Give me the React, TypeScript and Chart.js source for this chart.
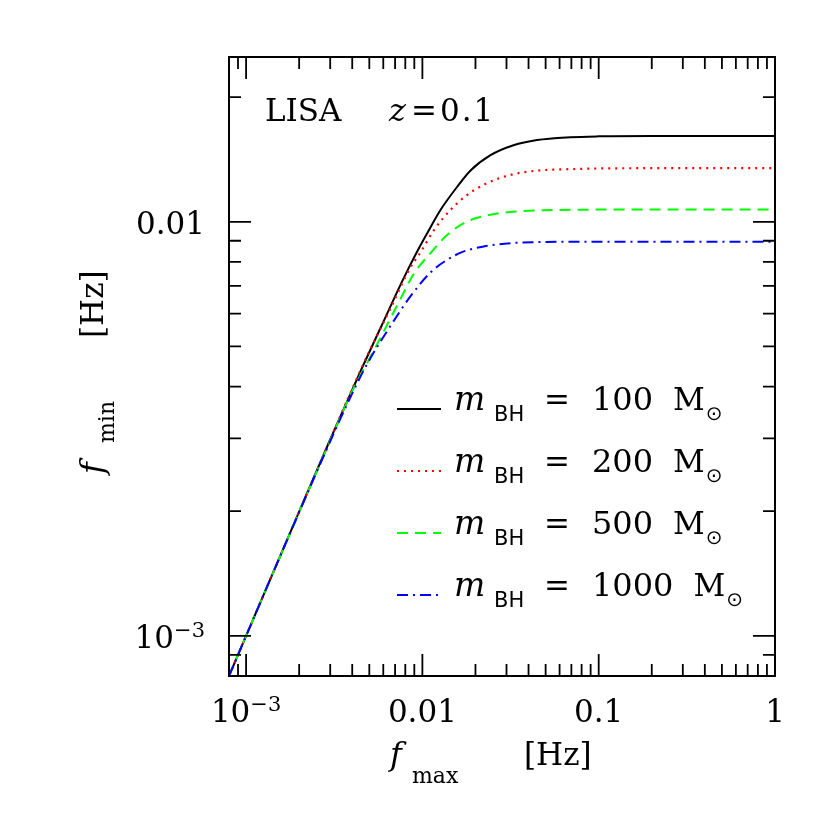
import React, { useEffect, useRef } from "react";
import { Chart, registerables } from "chart.js";

Chart.register(...registerables);

// ---- data (f_max [Hz] -> f_min [Hz]) ----
const fmax100 = [8e-4, 1e-3, 2e-3, 3e-3, 4.57e-3, 6.06e-3, 7.7e-3, 9.37e-3, 0.01067, 0.01269, 0.01578, 0.01876, 0.02435, 0.03286, 0.0447, 0.0691, 0.1, 0.2, 0.5, 1];
const fmin100 = [8e-4, 1e-3, 1.995e-3, 2.98e-3, 4.46e-3, 5.78e-3, 7.2e-3, 8.5e-3, 9.4e-3, 0.01069, 0.01216, 0.0133, 0.01448, 0.0153, 0.01575, 0.016, 0.01608, 0.01612, 0.01612, 0.01612];

const fmax200 = [8e-4, 1e-3, 2e-3, 3e-3, 4e-3, 5.1e-3, 6.62e-3, 8.4e-3, 9.78e-3, 0.01163, 0.01446, 0.01798, 0.02333, 0.0316, 0.0447, 0.0691, 0.1, 0.2, 0.5, 1];
const fmin200 = [8e-4, 1e-3, 1.995e-3, 2.975e-3, 3.95e-3, 4.95e-3, 6.2e-3, 7.65e-3, 8.45e-3, 9.55e-3, 0.01069, 0.01162, 0.0124, 0.01298, 0.01329, 0.0134, 0.01345, 0.01347, 0.01347, 0.01347];

const fmax500 = [8e-4, 1e-3, 2e-3, 3e-3, 4e-3, 5.32e-3, 7.22e-3, 8.96e-3, 0.01114, 0.01385, 0.01798, 0.02435, 0.0345, 0.0488, 0.0691, 0.1, 0.2, 0.5, 1];
const fmin500 = [8e-4, 1e-3, 1.99e-3, 2.96e-3, 3.9e-3, 4.9e-3, 6.3e-3, 7.5e-3, 8.41e-3, 9.3e-3, 0.01002, 0.0104, 0.01059, 0.01066, 0.01069, 0.0107, 0.0107, 0.0107, 0.0107];

const fmax1000 = [8e-4, 1e-3, 2e-3, 3e-3, 4e-3, 4.88e-3, 6.62e-3, 8.59e-3, 0.01114, 0.01385, 0.01719, 0.0223, 0.0316, 0.0447, 0.0691, 0.1, 0.2, 0.5, 1];
const fmin1000 = [8e-4, 1e-3, 1.99e-3, 2.95e-3, 3.85e-3, 4.55e-3, 5.62e-3, 6.62e-3, 7.55e-3, 8.1e-3, 8.48e-3, 8.72e-3, 8.88e-3, 8.93e-3, 8.95e-3, 8.95e-3, 8.95e-3, 8.95e-3, 8.95e-3];

const massLabels = ["100", "200", "500", "1000"];

const xMajorTicks = [1e-3, 1e-2, 1e-1, 1];
const xTickLabels = ["10^\u22123", "0.01", "0.1", "1"];
const yMajorTicks = [1e-3, 1e-2];
const yTickLabels = ["10^\u22123", "0.01"];
const minorMultipliers = [2, 3, 4, 5, 6, 7, 8, 9];

const xTitle = { main: "f", sub: "max", unit: "[Hz]" };
const yTitle = { main: "f", sub: "min", unit: "[Hz]" };
const surveyLabel = "LISA";
const redshiftLabel = { sym: "z", eq: "=", val: "0.1" };

// ---- styles ----
const seriesStyles = [
  { color: "#000000", dash: [] as number[], width: 2 },
  { color: "#ff0000", dash: [2, 5], width: 2.2 },
  { color: "#00ff00", dash: [11, 7], width: 2 },
  { color: "#0000ff", dash: [11, 5, 2, 5], width: 2 },
];

const seriesData = [
  [fmax100, fmin100],
  [fmax200, fmin200],
  [fmax500, fmin500],
  [fmax1000, fmin1000],
];

const SERIF = "'DejaVu Serif', serif";
const SANS = "'DejaVu Sans', sans-serif";

function minorList(decades: number[]) {
  const out: number[] = [9e-4];
  for (const d of decades) for (const m of minorMultipliers) out.push(m * d);
  return out;
}

function drawPowerLabel(ctx: CanvasRenderingContext2D, label: string, x: number, y: number, align: "center" | "right") {
  const [base, exp] = label.split("^");
  ctx.textAlign = "left";
  ctx.font = `31px ${SERIF}`;
  const wb = ctx.measureText(base).width;
  let we = 0;
  if (exp) {
    ctx.font = `21px ${SERIF}`;
    we = ctx.measureText(exp).width;
  }
  const total = wb + we;
  const start = align === "center" ? x - total / 2 : x - total;
  ctx.font = `31px ${SERIF}`;
  ctx.fillText(base, start, y);
  if (exp) {
    ctx.font = `21px ${SERIF}`;
    ctx.fillText(exp, start + wb, y - 11);
  }
}

const framePlugin = {
  id: "framePlugin",
  afterDraw(chart: any) {
    const ctx: CanvasRenderingContext2D = chart.ctx;
    const { left, right, top, bottom } = chart.chartArea;
    const xs = chart.scales.x;
    const ys = chart.scales.y;
    ctx.save();
    ctx.setLineDash([]);
    ctx.strokeStyle = "#000";
    ctx.fillStyle = "#000";

    // ticks (inward, all four sides)
    ctx.lineWidth = 1.8;
    ctx.beginPath();
    const xMinor = minorList([1e-3, 1e-2, 1e-1]);
    const yMinor = minorList([1e-3, 1e-2]);
    const tick = (len: number, vals: number[], axis: "x" | "y") => {
      for (const v of vals) {
        if (axis === "x") {
          const p = xs.getPixelForValue(v);
          if (p < left - 0.5 || p > right + 0.5) continue;
          ctx.moveTo(p, bottom); ctx.lineTo(p, bottom - len);
          ctx.moveTo(p, top); ctx.lineTo(p, top + len);
        } else {
          const p = ys.getPixelForValue(v);
          if (p < top - 0.5 || p > bottom + 0.5) continue;
          ctx.moveTo(left, p); ctx.lineTo(left + len, p);
          ctx.moveTo(right, p); ctx.lineTo(right - len, p);
        }
      }
    };
    tick(12, xMinor, "x");
    tick(22, xMajorTicks, "x");
    tick(12, yMinor, "y");
    tick(22, yMajorTicks, "y");
    ctx.stroke();

    // frame
    ctx.lineWidth = 2;
    ctx.strokeRect(left, top, right - left, bottom - top);

    // tick labels
    ctx.textBaseline = "alphabetic";
    xMajorTicks.forEach((v, i) => drawPowerLabel(ctx, xTickLabels[i], xs.getPixelForValue(v), bottom + 46, "center"));
    yMajorTicks.forEach((v, i) => drawPowerLabel(ctx, yTickLabels[i], left - 24, ys.getPixelForValue(v) + 12, "right"));

    // x axis title
    ctx.textAlign = "left";
    ctx.font = `italic 32px ${SERIF}`;
    ctx.fillText(xTitle.main, 390, 765);
    ctx.font = `22px ${SERIF}`;
    ctx.fillText(xTitle.sub, 412, 783);
    ctx.font = `31px ${SERIF}`;
    ctx.fillText(xTitle.unit, 524, 765);

    // y axis title (rotated)
    ctx.save();
    ctx.translate(103, 474);
    ctx.rotate(-Math.PI / 2);
    ctx.font = `italic 32px ${SERIF}`;
    ctx.fillText(yTitle.main, 0, 0);
    ctx.font = `22px ${SERIF}`;
    ctx.fillText(yTitle.sub, 31, 11);
    ctx.font = `31px ${SERIF}`;
    ctx.fillText(yTitle.unit, 136, 0);
    ctx.restore();

    // annotation
    ctx.font = `31px ${SERIF}`;
    ctx.fillText(surveyLabel, 265, 121);
    ctx.font = `italic 32px ${SERIF}`;
    ctx.fillText(redshiftLabel.sym, 389, 121);
    ctx.font = `31px ${SERIF}`;
    ctx.fillText(redshiftLabel.eq, 411, 121);
    (ctx as any).letterSpacing = "2px";
    ctx.fillText(redshiftLabel.val, 440, 121);
    (ctx as any).letterSpacing = "0px";

    // legend
    massLabels.forEach((m, i) => {
      const base = 410 + i * 62;
      const st = seriesStyles[i];
      ctx.save();
      ctx.strokeStyle = st.color;
      ctx.lineWidth = st.width;
      ctx.setLineDash(st.dash);
      ctx.beginPath();
      ctx.moveTo(397, base - 1);
      ctx.lineTo(441, base - 1);
      ctx.stroke();
      ctx.restore();
      ctx.fillStyle = "#000";
      ctx.textAlign = "left";
      ctx.font = `italic 33px ${SERIF}`;
      ctx.fillText("m", 454, base);
      ctx.font = `21px ${SANS}`;
      ctx.fillText("BH", 494, base + 11);
      ctx.font = `31px ${SERIF}`;
      ctx.fillText("=", 544, base);
      ctx.font = `32px ${SERIF}`;
      ctx.fillText(m, 592, base);
      const wNum = ctx.measureText(m).width;
      ctx.font = `31px ${SERIF}`;
      const mx = 592 + wNum + 20;
      ctx.fillText("M", mx, base);
      const wM = ctx.measureText("M").width;
      ctx.font = `20px ${SANS}`;
      ctx.fillText("\u2299", mx + wM + 1, base + 10);
    });

    ctx.restore();
  },
};

export default function App() {
  const ref = useRef<HTMLCanvasElement>(null);
  useEffect(() => {
    const canvas = ref.current;
    if (!canvas) return;
    const chart = new Chart(canvas, {
      type: "line",
      data: {
        datasets: seriesData.map(([xv, yv], i) => ({
          label: massLabels[i],
          data: xv.map((x, j) => ({ x, y: yv[j] })),
          borderColor: seriesStyles[i].color,
          borderWidth: seriesStyles[i].width,
          borderDash: seriesStyles[i].dash,
          pointRadius: 0,
          fill: false,
          order: seriesData.length - 1 - i,
          cubicInterpolationMode: "monotone" as const,
        })),
      },
      options: {
        responsive: false,
        animation: false,
        devicePixelRatio: 1,
        layout: { padding: { left: 229, right: 55, top: 57, bottom: 154 } },
        plugins: { legend: { display: false }, tooltip: { enabled: false } },
        scales: {
          x: { type: "logarithmic", min: 8e-4, max: 1, display: false },
          y: { type: "logarithmic", min: 8e-4, max: 0.025, display: false },
        },
      },
      plugins: [framePlugin],
    } as any);
    return () => chart.destroy();
  }, []);
  return (
    <div style={{ position: "absolute", left: 0, top: 0, width: 830, height: 830, background: "#fff" }}>
      <canvas ref={ref} width={830} height={830} style={{ display: "block", width: 830, height: 830 }} />
    </div>
  );
}
